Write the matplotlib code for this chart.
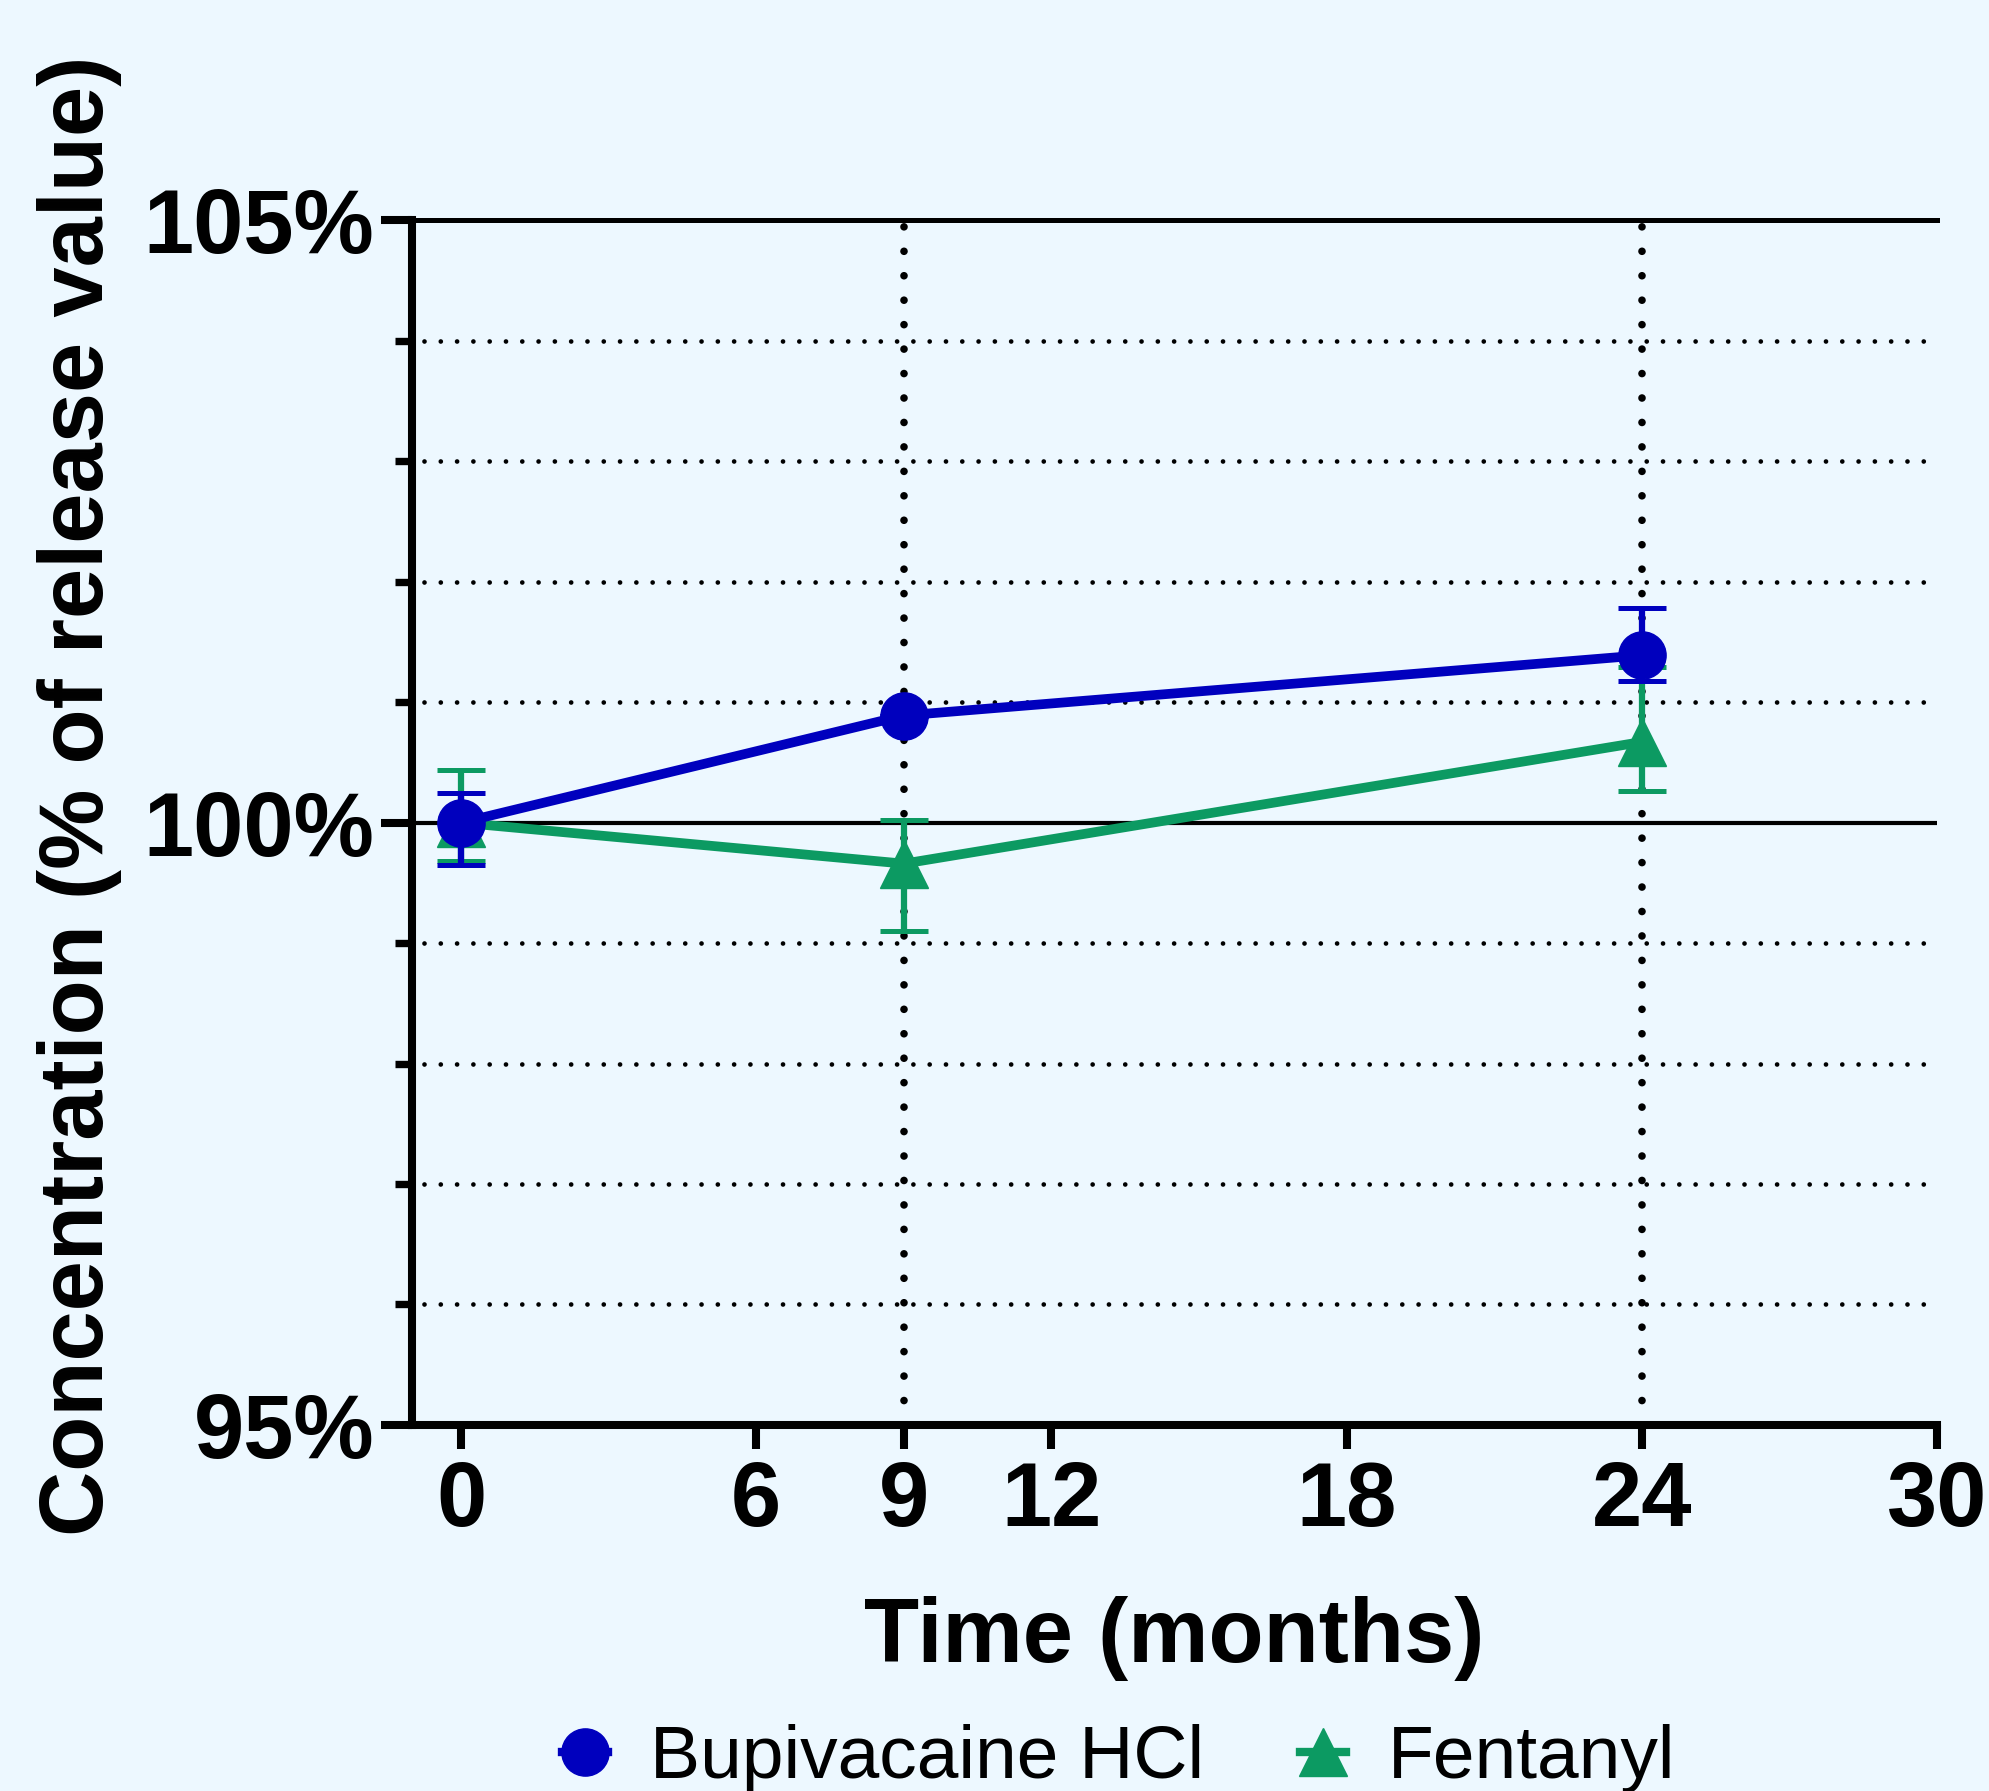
import matplotlib
matplotlib.use("Agg")
import matplotlib.pyplot as plt
from matplotlib.lines import Line2D

# stability data
months = [0, 9, 24]

bupi = [100.0, 100.89, 101.39]
bupi_lo = [0.35, 0.0, 0.21]
bupi_hi = [0.25, 0.0, 0.39]

fent = [100.0, 99.66, 100.67]
fent_lo = [0.32, 0.56, 0.41]
fent_hi = [0.44, 0.36, 0.62]

xticks = [0, 6, 9, 12, 18, 24, 30]
yticks_major = [95, 100, 105]
yticks_minor = [96, 97, 98, 99, 101, 102, 103, 104]
ytick_labels = ["95%", "100%", "105%"]

bg = "#EDF8FF"
blue = "#0000BE"
green = "#0C9A62"
font = "Liberation Sans"

plt.rcParams["font.family"] = font

fig = plt.figure(figsize=(19.9, 17.91), dpi=100, facecolor=bg)
ax = fig.add_axes([0.2070, 0.2044, 0.7663, 0.6725])
ax.set_facecolor(bg)

ax.set_xlim(-1, 30)
ax.set_ylim(95, 105)

# grid: dotted minor horizontals, solid at 100 and 105, dotted verticals at 9 and 24
hl = ax.hlines(yticks_minor, -0.75, 29.85, colors="black", lw=3.4,
               linestyles=(0, (0.001, 3.45)), zorder=1)
hl.set_capstyle("round")
ax.axhline(100, color="black", lw=3.0, zorder=1)
ax.axhline(105, color="black", lw=3.6, zorder=1, clip_on=False)
for xv in [9, 24]:
    l = ax.axvline(xv, color="black", lw=5.5, linestyle=(0, (0.001, 3.2)), zorder=1)
    l.set_dash_capstyle("round")

ax.errorbar(months, fent, yerr=[fent_lo, fent_hi], fmt="-^", color=green,
            lw=7, ms=34, elinewidth=4.5, capsize=17.3, capthick=3.6,
            zorder=3, clip_on=False)
ax.errorbar(months, bupi, yerr=[bupi_lo, bupi_hi], fmt="-o", color=blue,
            lw=7, ms=34, elinewidth=4.5, capsize=17.3, capthick=3.6,
            zorder=4, clip_on=False)

for s in ["top", "right"]:
    ax.spines[s].set_visible(False)
for s in ["left", "bottom"]:
    ax.spines[s].set_linewidth(5.8)
    ax.spines[s].set_capstyle("projecting")

ax.set_xticks(xticks)
ax.set_xticklabels([str(v) for v in xticks])
ax.set_yticks(yticks_major)
ax.set_yticklabels(ytick_labels)
ax.set_yticks(yticks_minor, minor=True)
ax.tick_params(axis="x", length=17, width=5.8, pad=8, labelsize=65)
ax.tick_params(axis="y", which="major", length=22, width=5.8, pad=5, labelsize=65)
ax.tick_params(axis="y", which="minor", length=12.5, width=5.3)
for t in ax.get_xticklabels() + ax.get_yticklabels():
    t.set_fontweight("bold")

fig.text(0.040, 1 - 796 / 1791, "Concentration (% of release value)",
         rotation=90, ha="center", va="center", fontsize=65, fontweight="bold")
fig.text(0.5902, 1 - 1662 / 1791, "Time (months)", ha="center", va="baseline",
         fontsize=65, fontweight="bold")

handles = [
    Line2D([], [], color=blue, marker="o", ms=34, lw=6),
    Line2D([], [], color=green, marker="^", ms=34, lw=6),
]
fig.legend(handles, ["Bupivacaine HCl", "Fentanyl"], loc="center",
           bbox_to_anchor=(0.562, 0.018), ncol=2, frameon=False,
           fontsize=54, handlelength=0.62, handletextpad=0.55,
           columnspacing=1.28, borderpad=0, borderaxespad=0)

fig.savefig("out.png", dpi=100, facecolor=bg)
